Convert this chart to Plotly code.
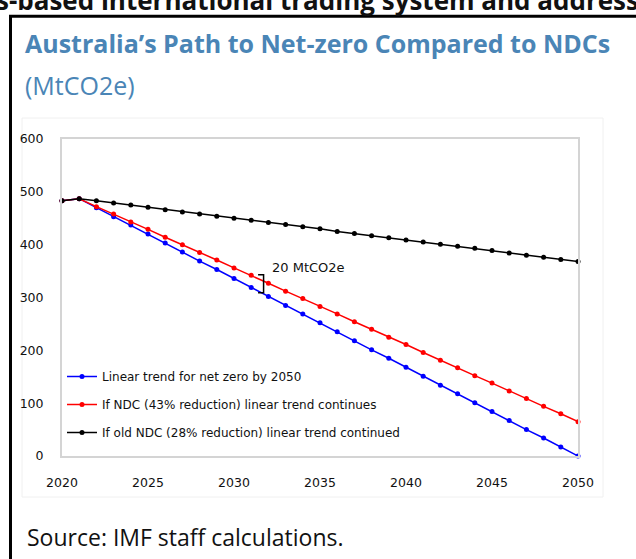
import plotly.graph_objects as go

years = list(range(2020, 2051))

net_zero = [483, 487, 470, 453, 437, 420, 403, 386, 369, 353, 336, 319, 302, 285, 269, 252,
            235, 218, 201, 185, 168, 151, 134, 118, 101, 84, 67, 50, 34, 17, 0]
ndc_43 = [483, 487, 472, 458, 443, 429, 414, 400, 385, 371, 356, 342, 327, 312, 298, 283,
          269, 254, 240, 225, 211, 196, 181, 167, 152, 138, 123, 109, 94, 80, 65]
old_ndc_28 = [483, 487, 483, 479, 475, 471, 466, 462, 458, 454, 450, 446, 442, 438, 434, 430,
              425, 421, 417, 413, 409, 405, 401, 397, 393, 389, 384, 380, 376, 372, 368]

series_names = [
    'Linear trend for net zero by 2050',
    'If NDC (43% reduction) linear trend continues',
    'If old NDC (28% reduction) linear trend continued',
]
series_colors = ['#0000FF', '#FF0000', '#000000']

W, H = 636, 559
# plot area in page pixels
L, R, T, B = 62, 578, 139, 456


def px(x):
    return (x - L) / (R - L)


def py(y):
    return (B - y) / (B - T)


fig = go.Figure()
for name, vals, col in zip(series_names, [net_zero, ndc_43, old_ndc_28], series_colors):
    fig.add_trace(go.Scatter(
        x=years, y=vals, name=name, legendgroup=name,
        mode='lines+markers', cliponaxis=False,
        line=dict(color=col, width=1.5),
        marker=dict(color=col, size=5),
    ))

axis_font = dict(family='DejaVu Sans', size=12.5, color='#111111')
fig.update_xaxes(range=[2020, 2050], tickvals=list(range(2020, 2051, 5)),
                 showgrid=False, zeroline=False, showline=True, mirror=True,
                 linecolor='#d4d4d4', linewidth=2, tickfont=axis_font,
                 ticks='', ticklabelstandoff=14)
fig.update_yaxes(range=[0, 600], dtick=100,
                 showgrid=False, zeroline=False, showline=True, mirror=True,
                 linecolor='#d4d4d4', linewidth=2, tickfont=axis_font,
                 ticks='', ticklabelstandoff=14)

fig.add_annotation(x=2032.1, y=357, xref='x', yref='y', text='20 MtCO2e',
                   showarrow=False, xanchor='left', yanchor='middle',
                   font=dict(family='DejaVu Sans', size=13, color='#111111'))
fig.add_shape(type='path', xref='x', yref='y',
              path='M 2031.4,343 L 2031.72,343 L 2031.72,309 L 2031.4,309',
              line=dict(color='#000000', width=1.5))

title_blue = '#4A85B6'
fig.add_annotation(x=px(23), y=py(43), xref='paper', yref='paper',
                   text='<b>Australia’s Path to Net-zero Compared to NDCs</b>',
                   showarrow=False, xanchor='left', yanchor='middle',
                   font=dict(family='Open Sans', size=25, color=title_blue))
fig.add_annotation(x=px(23), y=py(85), xref='paper', yref='paper',
                   text='(MtCO2e)', showarrow=False, xanchor='left', yanchor='middle',
                   font=dict(family='Open Sans', size=25, color=title_blue))
fig.add_annotation(x=px(25), y=py(537), xref='paper', yref='paper',
                   text='Source: IMF staff calculations.', showarrow=False,
                   xanchor='left', yanchor='middle',
                   font=dict(family='Open Sans', size=23, color='#111111'))
# page text cut off above the box
fig.add_annotation(x=px(-6), y=py(0), xref='paper', yref='paper',
                   text='<b>s-based international trading system and address</b>',
                   showarrow=False, xanchor='left', yanchor='middle',
                   font=dict(family='Open Sans', size=26, color='#111111'))

# faint chart-area frame and black box
fig.add_shape(type='rect', xref='paper', yref='paper',
              x0=px(22), x1=px(603), y0=py(118), y1=py(497),
              line=dict(color='#f0f0f0', width=1), layer='below')
fig.add_shape(type='rect', xref='paper', yref='paper',
              x0=px(10.5), x1=px(660), y0=py(16.3), y1=py(580),
              line=dict(color='#000000', width=3))

fig.update_layout(
    width=W, height=H,
    margin=dict(l=L, r=W - R, t=T, b=H - B),
    paper_bgcolor='white', plot_bgcolor='white',
    showlegend=True,
    legend=dict(x=0.0, y=py(362), xanchor='left', yanchor='top',
                bgcolor='rgba(0,0,0,0)', traceorder='grouped', tracegroupgap=9,
                itemwidth=30, font=dict(family='DejaVu Sans', size=12, color='#111111')),
)

# drop the default 8px body margin so the figure fills the window
fig.write_html('out.html', config={'displayModeBar': False},
               post_script="document.body.style.margin='0';document.body.style.overflow='hidden';")
